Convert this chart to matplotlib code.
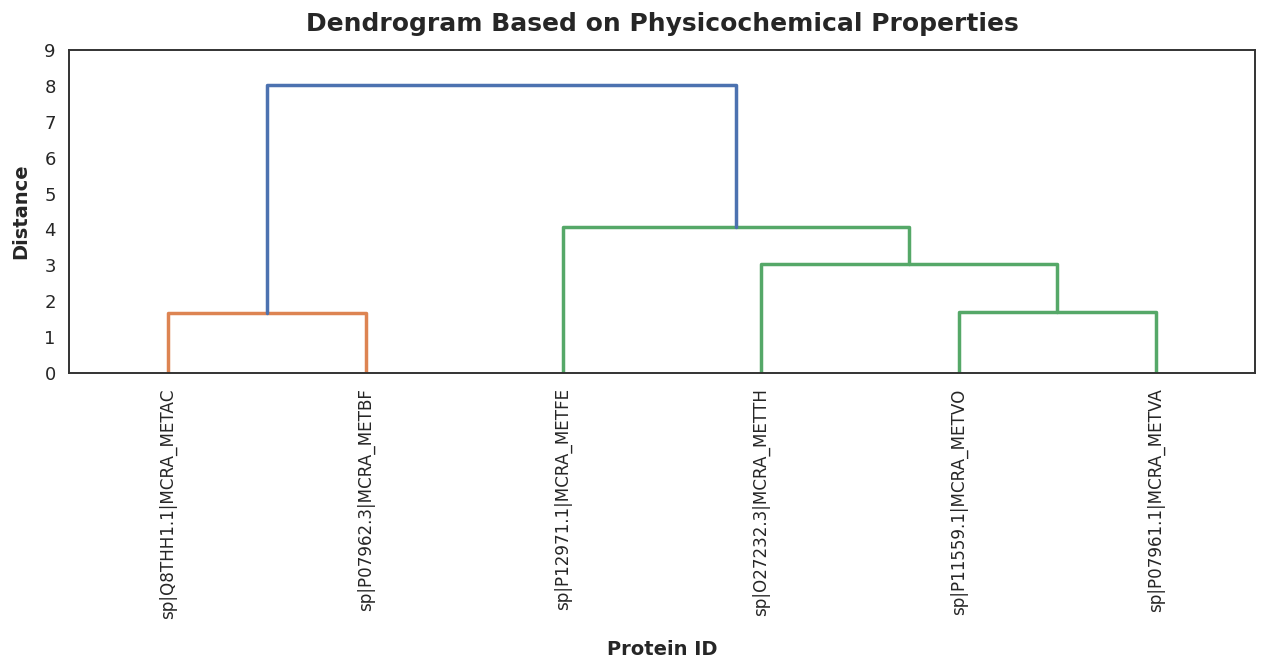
import matplotlib
matplotlib.use("Agg")
import matplotlib.pyplot as plt
import seaborn as sns

sns.set_theme(style="white")
plt.rcParams['font.family'] = ['DejaVu Sans']

# leaves in dendrogram order
labels = ["sp|Q8THH1.1|MCRA_METAC", "sp|P07962.3|MCRA_METBF", "sp|P12971.1|MCRA_METFE",
          "sp|O27232.3|MCRA_METTH", "sp|P11559.1|MCRA_METVO", "sp|P07961.1|MCRA_METVA"]
# merges: (left node, right node, height, color); nodes 0-5 leaves, 6+ clusters
merge_left = [0, 4, 3, 2, 6]
merge_right = [1, 5, 7, 8, 9]
merge_height = [1.66, 1.69, 3.05, 4.06, 8.02]
merge_color = ["#DD8452", "#55A868", "#55A868", "#55A868", "#4C72B0"]

fig, ax = plt.subplots(figsize=(12.65, 6.65), dpi=100)

pos = {i: 5 + 10 * i for i in range(len(labels))}
hgt = {i: 0.0 for i in range(len(labels))}
n = len(labels)
for k, (a, b, h, c) in enumerate(zip(merge_left, merge_right, merge_height, merge_color)):
    xa, xb = pos[a], pos[b]
    ax.plot([xa, xa, xb, xb], [hgt[a], h, h, hgt[b]], color=c, lw=2.5)
    pos[n + k] = (xa + xb) / 2
    hgt[n + k] = h

ax.set_xlim(0, 10 * n)
ax.set_ylim(0, 9)
ax.set_xticks([5 + 10 * i for i in range(n)])
ax.set_xticklabels(labels, rotation=90, fontsize=12.1)
ax.set_yticks(range(10))
ax.tick_params(axis='y', labelsize=13)
ax.tick_params(axis='x', pad=5)
for s in ax.spines.values():
    s.set_color("#333333")
    s.set_linewidth(1.4)
ax.set_title("Dendrogram Based on Physicochemical Properties", fontsize=18, fontweight='bold', pad=14)
ax.set_xlabel("Protein ID", fontsize=14, fontweight='bold', labelpad=15)
ax.set_ylabel("Distance", fontsize=14, fontweight='bold', labelpad=10)
fig.subplots_adjust(left=69/1265, right=1255/1265, top=1-50/665, bottom=1-373/665)
fig.savefig("out.png", dpi=100)
